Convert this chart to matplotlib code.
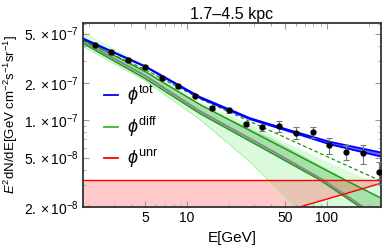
import numpy as np
import matplotlib
matplotlib.use("Agg")
import matplotlib.pyplot as plt
from matplotlib.ticker import FixedLocator, NullFormatter, FixedFormatter

plt.rcParams['font.family'] = ['Liberation Sans', 'DejaVu Sans']
plt.rcParams['mathtext.fontset'] = 'custom'
plt.rcParams['mathtext.rm'] = 'Liberation Sans'
plt.rcParams['mathtext.it'] = 'Liberation Sans:italic'

# data points (E in GeV, E^2 dN/dE)
e_pts = [2.19, 2.86, 3.81, 5.01, 6.6, 8.67, 11.4, 15.0, 19.95, 26.2,
         34.5, 45.6, 60.0, 79.0, 103.8, 137, 182, 236]
flux_pts = [4.03e-7, 3.56e-7, 3.07e-7, 2.69e-7, 2.19e-7, 1.88e-7, 1.58e-7,
            1.257e-7, 1.20e-7, 9.37e-8, 8.75e-8, 8.92e-8, 7.89e-8, 8.03e-8,
            6.31e-8, 5.54e-8, 5.40e-8, 3.86e-8]
rel_err = [0.03, 0.03, 0.03, 0.03, 0.03, 0.03, 0.03, 0.03, 0.04, 0.04,
           0.055, 0.10, 0.11, 0.10, 0.15, 0.13, 0.175, 0.2]

# total model (narrow band)
e_tot = [1.81, 5.01, 12.4, 28.2, 54.4, 105, 243]
tot_hi = [4.56e-7, 2.73e-7, 1.54e-7, 1.04e-7, 8.3e-8, 6.70e-8, 5.50e-8]
tot_lo = [4.52e-7, 2.71e-7, 1.51e-7, 1.02e-7, 8.1e-8, 6.40e-8, 5.10e-8]

# diffuse components
e_gup = [1.81, 5.01, 12.4, 51.8, 134.5, 243]
g_up = [4.48e-7, 2.47e-7, 1.336e-7, 5.78e-8, 3.30e-8, 2.36e-8]
e_grey = [1.81, 5.01, 12.4, 39.2, 93.6, 181, 243]
grey = [4.32e-7, 2.29e-7, 1.18e-7, 5.78e-8, 3.30e-8, 2.0e-8, 1.6e-8]
e_glo = [1.81, 5.01, 12.4, 39.2, 89.1, 172, 243]
g_lo = [4.16e-7, 2.17e-7, 1.13e-7, 5.52e-8, 3.30e-8, 2.0e-8, 1.55e-8]
e_dash = [1.81, 5.01, 12.4, 54.4, 243]
g_dash = [4.40e-7, 2.56e-7, 1.49e-7, 6.97e-8, 3.24e-8]
e_lband = [1.81, 5.01, 12.4, 28.2, 54.4, 60.0, 105, 243]
lband_hi = [5.20e-7, 2.76e-7, 1.39e-7, 9.3e-8, 6.34e-8, 6.1e-8, 4.5e-8, 3.01e-8]
lband_lo = [3.93e-7, 2.09e-7, 1.01e-7, 4.62e-8, 2.2e-8, 2.0e-8, 1.08e-8, 4.7e-9]

# unresolved sources
e_unr = [1.81, 64.2, 243]
unr_hi = [3.3e-8, 3.3e-8, 3.3e-8]
unr_lo = [6.1e-9, 2.0e-8, 3.1e-8]

fig = plt.figure(figsize=(3.82, 2.49), dpi=100)
ax = fig.add_axes([0.217, 0.169, 0.78, 0.739])

# light green band
ax.fill_between(e_lband, lband_lo, lband_hi, color='#99ee99', alpha=0.35, lw=0)
ax.plot(e_lband, lband_lo, color='#99ee99', lw=0.6)
# dark green band
ax.fill_between(e_glo, g_lo, np.interp(np.log(e_glo), np.log(e_gup), g_up),
                color='#33aa33', alpha=0.3, lw=0)
ax.plot(e_gup, g_up, color='#119911', lw=1.0)
ax.plot(e_glo, g_lo, color='#119911', lw=1.0)
ax.plot(e_grey, grey, color='#888888', lw=1.5)
ax.plot(e_dash, g_dash, color='#119911', lw=0.9, ls=(0, (3, 2)))

# unresolved band
ax.fill_between(e_unr, unr_lo, unr_hi, color='#ff6666', alpha=0.35, lw=0)
ax.plot(e_unr, unr_hi, color='red', lw=1.0)
ax.plot(e_unr, unr_lo, color='red', lw=1.0)

# total
ax.fill_between(e_tot, tot_lo, tot_hi, color='blue', alpha=0.6, lw=0)
ax.plot(e_tot, tot_hi, color='blue', lw=1.3)
ax.plot(e_tot, tot_lo, color='blue', lw=1.3)

err = np.array(flux_pts) * np.array(rel_err)
ax.errorbar(e_pts, flux_pts, yerr=err, fmt='o', color='black', ms=3.5,
            ecolor='#777777', elinewidth=0.8, capsize=2, capthick=0.8,
            clip_on=True, zorder=5)

ax.set_xscale('log')
ax.set_yscale('log')
ax.set_xlim(1.8, 243)
ax.set_ylim(2e-8, 6.1e-7)

ax.xaxis.set_major_locator(FixedLocator([5, 10, 50, 100]))
ax.xaxis.set_major_formatter(FixedFormatter(['5', '10', '50', '100']))
ax.xaxis.set_minor_locator(FixedLocator([2, 3, 4, 6, 7, 8, 9, 20, 30, 40, 60, 70, 80, 90, 200]))
ax.xaxis.set_minor_formatter(NullFormatter())
ax.yaxis.set_major_locator(FixedLocator([2e-8, 5e-8, 1e-7, 2e-7, 5e-7]))
ax.yaxis.set_major_formatter(FixedFormatter([r'$2.\times10^{-8}$', r'$5.\times10^{-8}$',
                                             r'$1.\times10^{-7}$', r'$2.\times10^{-7}$',
                                             r'$5.\times10^{-7}$']))
ax.yaxis.set_minor_locator(FixedLocator([3e-8, 4e-8, 6e-8, 7e-8, 8e-8, 9e-8,
                                         3e-7, 4e-7, 6e-7]))
ax.yaxis.set_minor_formatter(NullFormatter())
ax.tick_params(which='both', direction='in', top=True, right=True,
               labelsize=10, color='#999999', pad=3)
ax.tick_params(which='major', length=4)
ax.tick_params(which='minor', length=2)
for s in ax.spines.values():
    s.set_color('#333333')
    s.set_linewidth(1.3)

ax.set_title('1.7\u20134.5 kpc', fontsize=11.5, pad=3)
ax.set_xlabel('E[GeV]', fontsize=11, labelpad=4)
ax.set_ylabel(r'$\mathit{E}^2$dN/dE[GeV cm$^{-2}$s$^{-1}$sr$^{-1}$]', fontsize=9.5)
ax.yaxis.set_label_coords(-0.212, 0.5)

h1, = ax.plot([], [], color='blue', lw=1.3)
h2, = ax.plot([], [], color='#33bb33', lw=1.3)
h3, = ax.plot([], [], color='red', lw=1.3)
leg = ax.legend([h1, h2, h3], [r'$\phi^{\rm tot}$', r'$\phi^{\rm diff}$', r'$\phi^{\rm unr}$'],
                loc='upper left', bbox_to_anchor=(0.015, 0.76), frameon=False,
                fontsize=13, handlelength=0.8, labelspacing=0.45, handletextpad=0.5)

fig.savefig('out.png', dpi=100)
